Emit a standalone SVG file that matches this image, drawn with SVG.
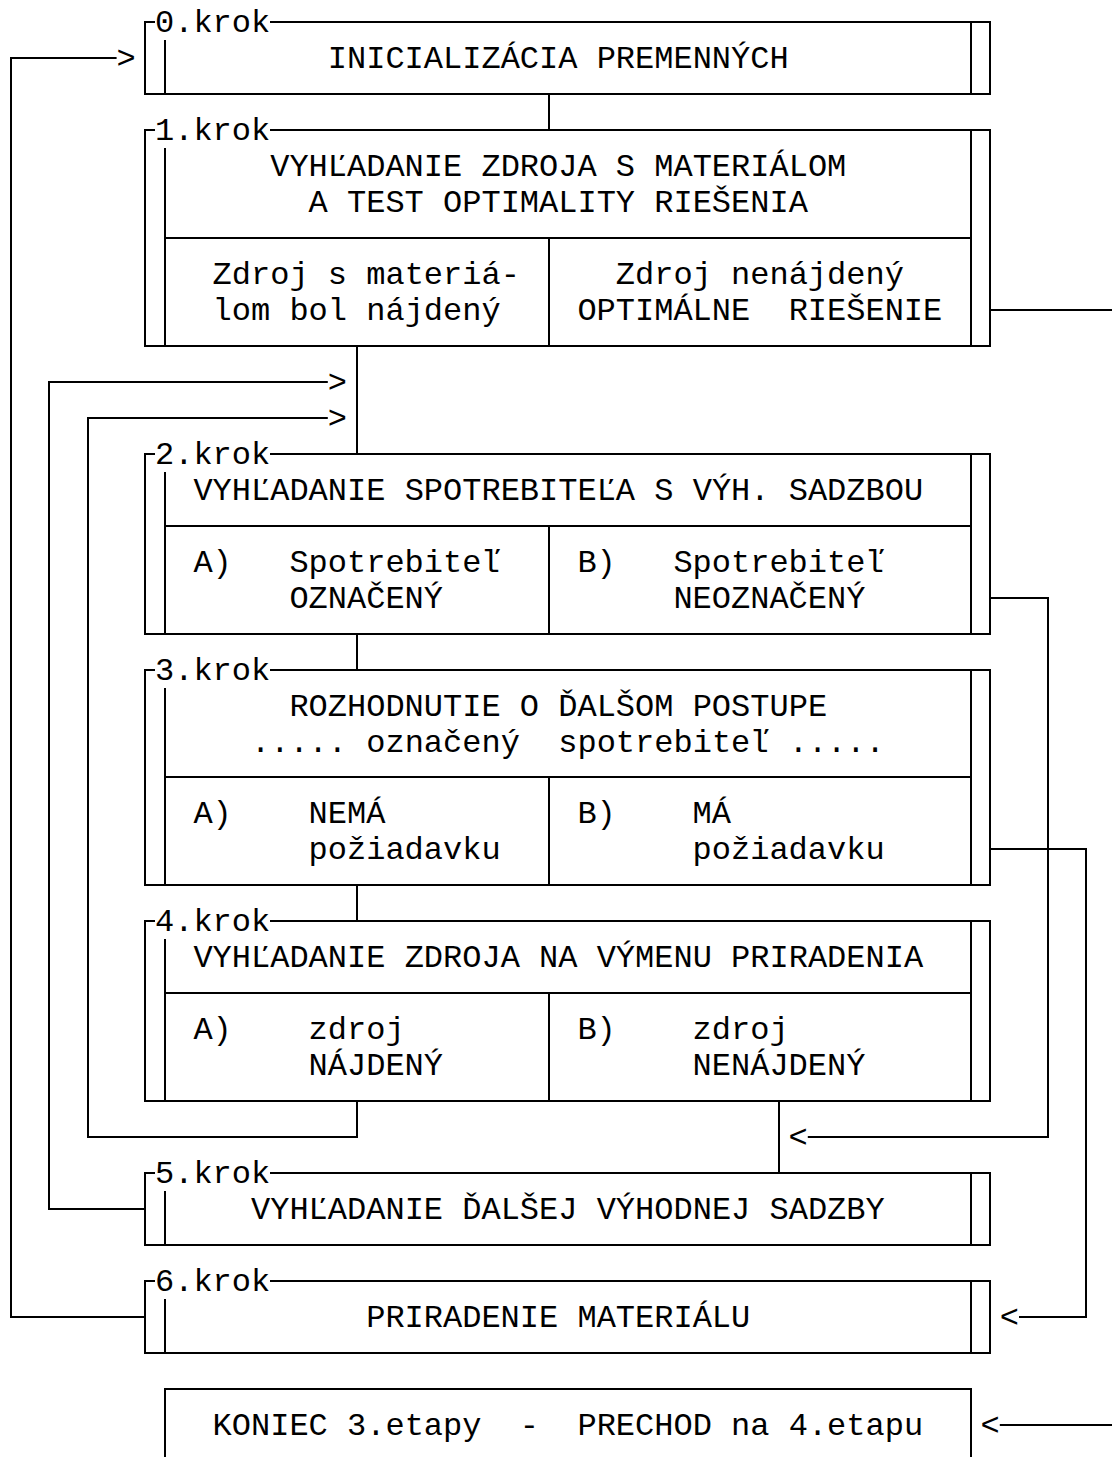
<svg xmlns="http://www.w3.org/2000/svg" width="1112" height="1457" viewBox="0 0 1112 1457">
  <style>
    .ln { fill: none; stroke: #000; stroke-width: 2; }
    text { font-family: "Liberation Mono", "Courier New", monospace; font-size: 32px; fill: #000; white-space: pre; }
  </style>
  <rect width="1112" height="1457" fill="#fff"/>

  <!-- text grid: column line x = 11 + 19.2c, row line y = 22 + 35.95r, baselines 10px below row line -->

  <g id="krok0">
    <path class="ln" d="M155 22H145V94H990V22H270 M165 40V94 M971 22V94"/>
    <text x="155" y="32">0.krok</text>
    <text x="327.8" y="68">INICIALIZÁCIA PREMENNÝCH</text>
  </g>

  <g id="krok1">
    <path class="ln" d="M155 130H145V346H990V130H270 M165 148V346 M971 130V346 M165 238H971 M549 238V346"/>
    <text x="155" y="140">1.krok</text>
    <text x="270.2" y="176">VYHĽADANIE ZDROJA S MATERIÁLOM</text>
    <text x="308.6" y="212">A TEST OPTIMALITY RIEŠENIA</text>
    <text x="212.6" y="284">Zdroj s materiá-</text>
    <text x="615.8" y="284">Zdroj nenájdený</text>
    <text x="212.6" y="320">lom bol nájdený</text>
    <text x="577.4" y="320">OPTIMÁLNE  RIEŠENIE</text>
  </g>

  <g id="krok2">
    <path class="ln" d="M155 454H145V634H990V454H270 M165 472V634 M971 454V634 M165 526H971 M549 526V634"/>
    <text x="155" y="464">2.krok</text>
    <text x="193.4" y="500">VYHĽADANIE SPOTREBITEĽA S VÝH. SADZBOU</text>
    <text x="193.4" y="572">A)</text>
    <text x="289.4" y="572">Spotrebiteľ</text>
    <text x="577.4" y="572">B)</text>
    <text x="673.4" y="572">Spotrebiteľ</text>
    <text x="289.4" y="608">OZNAČENÝ</text>
    <text x="673.4" y="608">NEOZNAČENÝ</text>
  </g>

  <g id="krok3">
    <path class="ln" d="M155 670H145V885H990V670H270 M165 688V885 M971 670V885 M165 777H971 M549 777V885"/>
    <text x="155" y="680">3.krok</text>
    <text x="289.4" y="716">ROZHODNUTIE O ĎALŠOM POSTUPE</text>
    <text x="251" y="752">..... označený  spotrebiteľ .....</text>
    <text x="193.4" y="823">A)</text>
    <text x="308.6" y="823">NEMÁ</text>
    <text x="577.4" y="823">B)</text>
    <text x="692.6" y="823">MÁ</text>
    <text x="308.6" y="859">požiadavku</text>
    <text x="692.6" y="859">požiadavku</text>
  </g>

  <g id="krok4">
    <path class="ln" d="M155 921H145V1101H990V921H270 M165 939V1101 M971 921V1101 M165 993H971 M549 993V1101"/>
    <text x="155" y="931">4.krok</text>
    <text x="193.4" y="967">VYHĽADANIE ZDROJA NA VÝMENU PRIRADENIA</text>
    <text x="193.4" y="1039">A)</text>
    <text x="308.6" y="1039">zdroj</text>
    <text x="577.4" y="1039">B)</text>
    <text x="692.6" y="1039">zdroj</text>
    <text x="308.6" y="1075">NÁJDENÝ</text>
    <text x="692.6" y="1075">NENÁJDENÝ</text>
  </g>

  <g id="krok5">
    <path class="ln" d="M155 1173H145V1245H990V1173H270 M165 1191V1245 M971 1173V1245"/>
    <text x="155" y="1183">5.krok</text>
    <text x="251" y="1219">VYHĽADANIE ĎALŠEJ VÝHODNEJ SADZBY</text>
  </g>

  <g id="krok6">
    <path class="ln" d="M155 1281H145V1353H990V1281H270 M165 1299V1353 M971 1281V1353"/>
    <text x="155" y="1291">6.krok</text>
    <text x="366.2" y="1327">PRIRADENIE MATERIÁLU</text>
  </g>

  <g id="koniec">
    <path class="ln" d="M165 1460V1389H971V1460"/>
    <text x="212.6" y="1435">KONIEC 3.etapy  -  PRECHOD na 4.etapu</text>
  </g>

  <g id="connectors">
    <!-- step 6 back to step 0 -->
    <path class="ln" d="M116.6 58H11V1317H145"/>
    <text x="116.6" y="68">&gt;</text>
    <!-- step 0 to step 1 -->
    <path class="ln" d="M549 94V130"/>
    <!-- step 1 to step 2 -->
    <path class="ln" d="M357 346V454"/>
    <!-- step 5 back to step 2 -->
    <path class="ln" d="M327.8 382H49V1209H145"/>
    <text x="327.8" y="392">&gt;</text>
    <!-- step 4 (A) back to step 2 -->
    <path class="ln" d="M327.8 418H88V1137H357V1101"/>
    <text x="327.8" y="428">&gt;</text>
    <!-- step 2 to 3, step 3 to 4 -->
    <path class="ln" d="M357 634V670 M357 885V921"/>
    <!-- step 2 (B) to step 5 -->
    <path class="ln" d="M990 598H1048V1137H807.8"/>
    <text x="788.6" y="1147">&lt;</text>
    <!-- step 4 (B) to step 5 -->
    <path class="ln" d="M779 1101V1173"/>
    <!-- step 3 (B) to step 6 -->
    <path class="ln" d="M990 849H1086V1317H1019"/>
    <text x="999.8" y="1327">&lt;</text>
    <!-- step 1 optimum exit -->
    <path class="ln" d="M990 310H1112"/>
    <!-- entry to the end box -->
    <path class="ln" d="M999.8 1425H1112"/>
    <text x="980.6" y="1435">&lt;</text>
  </g>
</svg>
